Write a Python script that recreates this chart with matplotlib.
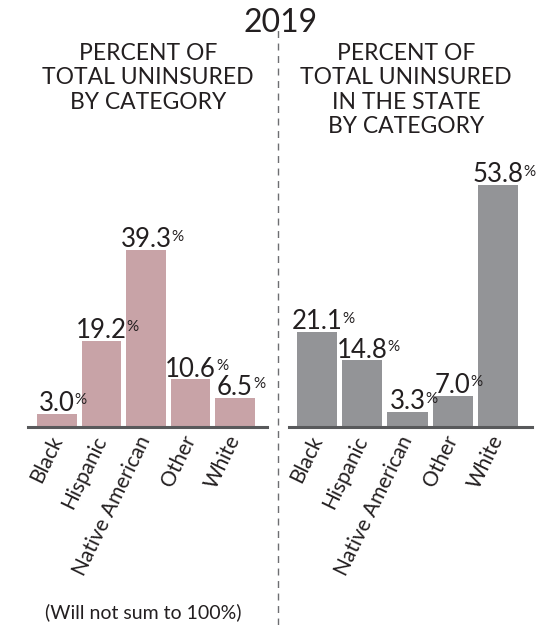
import matplotlib
matplotlib.use('Agg')
import matplotlib.pyplot as plt

plt.rcParams['font.family'] = ['Lato', 'DejaVu Sans']

# data
categories = ['Black', 'Hispanic', 'Native American', 'Other', 'White']
pct_of_uninsured = [3.0, 19.2, 39.3, 10.6, 6.5]
pct_of_state = [21.1, 14.8, 3.3, 7.0, 53.8]

title = '2019'
left_title = 'PERCENT OF\nTOTAL UNINSURED\nBY CATEGORY'
right_title = 'PERCENT OF\nTOTAL UNINSURED\nIN THE STATE\nBY CATEGORY'
note = '(Will not sum to 100%)'

TXT = '#231f20'
W, H = 553, 625

fig = plt.figure(figsize=(W / 100, H / 100), dpi=100)


def px_axes(x0, x1, y_base, height):
    return fig.add_axes([x0 / W, 1 - y_base / H, (x1 - x0) / W, height / H])


def bar_panel(ax, values, color, xlim):
    x = list(range(len(values)))
    ax.bar(x, values, width=0.89, color=color)
    ax.set_xlim(*xlim)
    ax.set_ylim(0, 60)
    for s in ['top', 'right', 'left']:
        ax.spines[s].set_visible(False)
    ax.spines['bottom'].set_color('#58595b')
    ax.spines['bottom'].set_linewidth(2.2)
    ax.set_yticks([])
    ax.set_xticks(x)
    ax.set_xticklabels(categories, rotation=64, ha='right', va='center',
                       rotation_mode='anchor', fontsize=15, color=TXT)
    ax.tick_params(axis='x', length=0, pad=7)
    for xi, v in zip(x, values):
        t = ax.annotate(f'{v:.1f}', xy=(xi, v), xytext=(0, 2), textcoords='offset points',
                        ha='center', va='baseline', fontsize=18.5, color=TXT)
        ax.annotate('%', xy=(1.0, 0.9), xycoords=t, ha='left', va='top',
                    fontsize=11, color=TXT)


axL = px_axes(28, 267, 427, 270)
bar_panel(axL, pct_of_uninsured, '#c8a3a7', (-0.65, 4.72))

axR = px_axes(289, 532, 427, 270)
bar_panel(axR, pct_of_state, '#939497', (-0.62, 4.75))

# titles
fig.text(281 / W, 1 - 32 / H, title, ha='center', va='baseline', fontsize=23, color=TXT)
fig.text(148 / W, 1 - 43 / H, left_title, ha='center', va='top', fontsize=16.5,
         linespacing=1.2, color=TXT)
fig.text(406 / W, 1 - 43 / H, right_title, ha='center', va='top', fontsize=16.5,
         linespacing=1.2, color=TXT)
fig.text(143 / W, 1 - 612 / H, note, ha='center', va='center', fontsize=14, color=TXT)

# dashed divider
fig.add_artist(plt.Line2D([278 / W, 278 / W], [0, 1 - 25 / H], transform=fig.transFigure,
                          color='#6d6e71', lw=1.0, linestyle=(0, (5, 4))))

fig.savefig('out.png', dpi=100)
